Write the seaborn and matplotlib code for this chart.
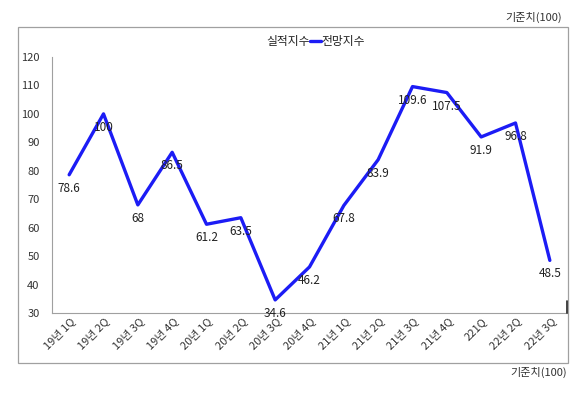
import pandas as pd
import matplotlib.pyplot as plt
import seaborn as sns
from matplotlib.patches import Rectangle
from matplotlib.lines import Line2D

# Data
quarters = ['19년 1Q', '19년 2Q', '19년 3Q', '19년 4Q', '20년 1Q', '20년 2Q',
            '20년 3Q', '20년 4Q', '21년 1Q', '21년 2Q', '21년 3Q', '21년 4Q',
            '221Q', '22년 2Q', '22년 3Q']
outlook = [78.6, 100, 68, 86.5, 61.2, 63.5, 34.6, 46.2, 67.8, 83.9,
           109.6, 107.5, 91.9, 96.8, 48.5]
value_labels = ['78.6', '100', '68', '86.5', '61.2', '63.5', '34.6', '46.2',
                '67.8', '83.9', '109.6', '107.5', '91.9', '96.8', '48.5']

df = pd.DataFrame({'quarter': quarters, 'value': outlook})

sns.set_theme(style="white")
plt.rcParams['font.family'] = ['Noto Sans CJK KR', 'DejaVu Sans']

fig = plt.figure(figsize=(5.8, 3.93), dpi=100)
ax = fig.add_axes([52 / 580, 1 - 313 / 393, 515 / 580, 256 / 393])

blue = '#1c1cf5'
sns.lineplot(data=df, x='quarter', y='value', sort=False, color=blue,
             linewidth=2.4, ax=ax)

ax.set_xlim(-0.5, len(quarters) - 0.5)
ax.set_ylim(30, 120)
ax.set_yticks(range(30, 121, 10))
ax.set_xlabel('')
ax.set_ylabel('')
ax.tick_params(axis='y', length=0, labelsize=8, colors='#333333', pad=9)
ax.tick_params(axis='x', length=0, labelsize=8, colors='#333333', pad=2)
ax.set_xticks(range(len(quarters)))
ax.set_xticklabels(quarters, rotation=45, ha='right', rotation_mode='anchor')

for side in ['top', 'right']:
    ax.spines[side].set_visible(False)
for side in ['left', 'bottom']:
    ax.spines[side].set_color('#a0a0a0')
    ax.spines[side].set_linewidth(0.8)

# data labels below points
for i, (v, lab) in enumerate(zip(outlook, value_labels)):
    ax.annotate(lab, xy=(i, v), xytext=(0, -5), textcoords='offset points',
                ha='center', va='top', fontsize=8.5, color='#222222')

# legend
handles = [Line2D([], [], color='none', linewidth=2.4),
           Line2D([], [], color=blue, linewidth=2.4)]
ax.legend(handles, ['실적지수', '전망지수'], ncol=2, loc='center',
          bbox_to_anchor=(0.5, 1.06), frameon=False, fontsize=8.5,
          handlelength=1.0, handletextpad=0.0, columnspacing=0.0,
          labelcolor='#222222')

# outer frame and side notes
fig.patches.append(Rectangle((18 / 580, 1 - 363 / 393), 550 / 580, 336 / 393,
                             transform=fig.transFigure, fill=False,
                             edgecolor='#a0a0a0', linewidth=0.9))
fig.lines.append(Line2D([567 / 580, 567 / 580], [1 - 301 / 393, 1 - 313 / 393],
                        transform=fig.transFigure, color='#222222', linewidth=1.2))
fig.text(562 / 580, 1 - 17 / 393, '기준치(100)', ha='right', va='center',
         fontsize=8, color='#333333')
fig.text(567 / 580, 1 - 372 / 393, '기준치(100)', ha='right', va='center',
         fontsize=8, color='#333333')

fig.savefig('out.png', dpi=100)
